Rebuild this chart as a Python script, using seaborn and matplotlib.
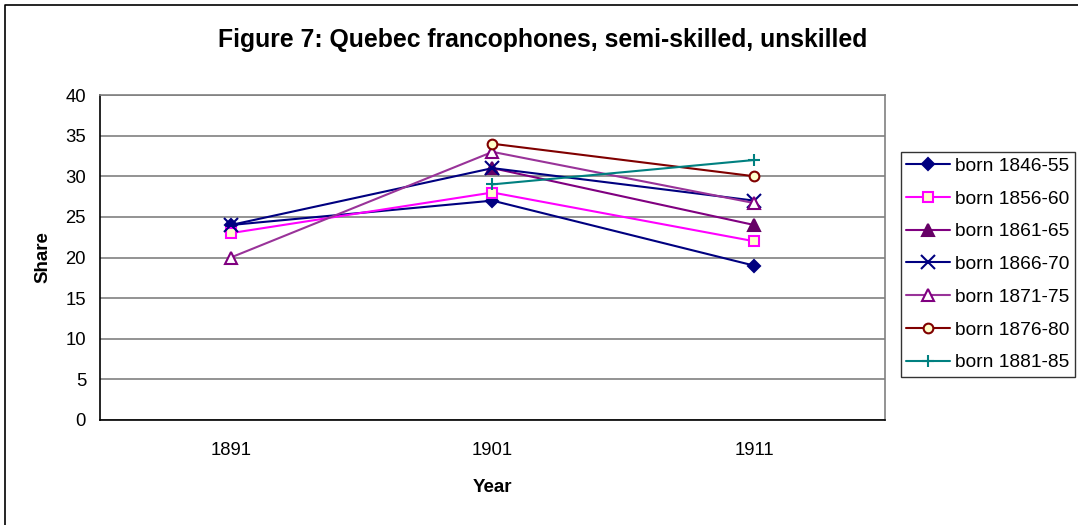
import numpy as np
import pandas as pd
import matplotlib
matplotlib.use("Agg")
import matplotlib.pyplot as plt
import seaborn as sns
from matplotlib.lines import Line2D

years = ["1891", "1901", "1911"]
cohorts = ["born 1846-55", "born 1856-60", "born 1861-65", "born 1866-70",
           "born 1871-75", "born 1876-80", "born 1881-85"]
born_1846_55 = [24, 27, 19]
born_1856_60 = [23, 28, 22]
born_1861_65 = [np.nan, 31, 24]
born_1866_70 = [24, 31, 27]
born_1871_75 = [20, 33, 26.7]
born_1876_80 = [np.nan, 34, 30]
born_1881_85 = [np.nan, 29, 32]
series = [born_1846_55, born_1856_60, born_1861_65, born_1866_70,
          born_1871_75, born_1876_80, born_1881_85]

rows = []
for name, vals in zip(cohorts, series):
    for i, (yr, v) in enumerate(zip(years, vals)):
        rows.append({"cohort": name, "pos": i, "year": yr, "share": v})
df = pd.DataFrame(rows)

styles = {
    "born 1846-55": dict(color="#000080", marker="D", ms=6, mfc="#000080", mec="#000080"),
    "born 1856-60": dict(color="#FF00FF", marker="s", ms=7, mfc="#FFFFCC", mec="#FF00FF"),
    "born 1861-65": dict(color="#800080", marker="^", ms=8, mfc="#660066", mec="#660066"),
    "born 1866-70": dict(color="#000080", marker="x", ms=10, mfc="none", mec="#000080"),
    "born 1871-75": dict(color="#993399", marker="^", ms=8, mfc="white", mec="#800080"),
    "born 1876-80": dict(color="#800000", marker="o", ms=7, mfc="#FFFFCC", mec="#800000"),
    "born 1881-85": dict(color="#008080", marker="+", ms=9, mfc="none", mec="#008080"),
}

sns.set_style("white")
plt.rcParams['font.family'] = ['Liberation Sans', 'DejaVu Sans']
plt.rcParams['text.color'] = 'black'
plt.rcParams['axes.labelcolor'] = 'black'
plt.rcParams['xtick.color'] = 'black'
plt.rcParams['ytick.color'] = 'black'

fig = plt.figure(figsize=(10.78, 5.25), dpi=100)
ax = fig.add_axes([100/1078, 105/525, 785/1078, 325/525])

for name in cohorts:
    st = styles[name]
    sub = df[df["cohort"] == name].dropna()
    sns.lineplot(data=sub, x="pos", y="share", ax=ax, color=st["color"], linewidth=1.5,
                 marker=st["marker"], markersize=st["ms"], markerfacecolor=st["mfc"],
                 markeredgecolor=st["mec"], markeredgewidth=1.5, label=name,
                 estimator=None, sort=False)

ax.set_xlim(-0.5, 2.5)
ax.set_ylim(0, 40)
ax.set_yticks(range(0, 41, 5))
ax.set_xticks([0, 1, 2])
ax.set_xticklabels(years)
ax.set_xticks([-0.5, 0.5, 1.5, 2.5], minor=True)
ax.tick_params(axis="x", which="major", length=0, pad=16, labelsize=13.3)
ax.tick_params(axis="x", which="minor", length=6, width=1, color="black", direction="out")
ax.tick_params(axis="y", length=6, width=1, color="black", direction="out", labelsize=13.3, pad=4)
ax.yaxis.grid(True, color="#808080", linewidth=1.2)
ax.set_axisbelow(True)
for s in ["left", "bottom"]:
    ax.spines[s].set_color("black")
    ax.spines[s].set_linewidth(1.2)
for s in ["top", "right"]:
    ax.spines[s].set_color("#808080")
    ax.spines[s].set_linewidth(1.2)

ax.set_xlabel("Year", fontsize=13.5, fontweight="bold", labelpad=14)
ax.set_ylabel("Share", fontsize=13.5, fontweight="bold", labelpad=10)

leg = ax.legend(loc="upper right", bbox_to_anchor=(1075/1078, 1 - 152/525),
                bbox_transform=fig.transFigure, frameon=True, fancybox=False,
                fontsize=13.8, handlelength=2.3, handletextpad=0.25,
                labelspacing=0.8, borderpad=0.28, borderaxespad=0)
leg.get_frame().set_edgecolor("black")
leg.get_frame().set_linewidth(1.0)

fig.text(543/1078, 1 - 40/525, "Figure 7: Quebec francophones, semi-skilled, unskilled",
         ha="center", va="center", fontsize=17.8, fontweight="bold")

# outer chart border (only top and left edges visible in the reference)
fig.lines.append(Line2D([5/1078, 5/1078, 1.0], [0.0, 1 - 5/525, 1 - 5/525],
                        transform=fig.transFigure, color="black", linewidth=1.2))

fig.savefig("out.png", dpi=100)
